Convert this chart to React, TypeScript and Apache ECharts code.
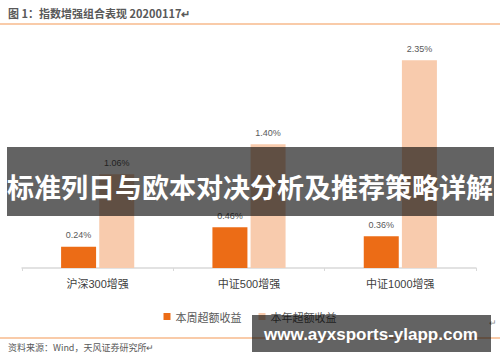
import React, { useEffect, useRef } from "react";
import * as echarts from "echarts";

const categories = ["沪深300增强", "中证500增强", "中证1000增强"];
const weekExcess = [0.24, 0.46, 0.36];
const yearExcess = [1.06, 1.4, 2.35];
const seriesNames = ["本周超额收益", "本年超额收益"];
const titleText = "图 1：指数增强组合表现 20200117↵";
const sourceText = "资料来源：Wind，天风证券研究所↵";
const bannerText = "标准列日与欧本对决分析及推荐策略详解";
const watermarkText = "www.ayxsports-ylapp.com";

export default function App() {
  const ref = useRef<HTMLDivElement>(null);
  useEffect(() => {
    if (!ref.current) return;
    const chart = echarts.init(ref.current, null, { renderer: "svg" });
    const labelStyle = {
      show: true,
      position: "top" as const,
      distance: 7,
      fontSize: 9,
      color: "#595959",
      fontFamily: "Liberation Sans, Arial, sans-serif",
      formatter: (p: any) => Number(p.value).toFixed(2) + "%",
    };
    chart.setOption({
      animation: false,
      backgroundColor: "#ffffff",
      grid: { left: 22, right: 24, top: 47, bottom: 94, containLabel: false },
      legend: {
        data: seriesNames,
        top: 306,
        left: "center",
        itemWidth: 7,
        itemHeight: 7,
        itemGap: 17,
        icon: "rect",
        textStyle: {
          fontSize: 11,
          color: "#595959",
          fontFamily: "Noto Sans CJK SC, sans-serif",
        },
      },
      xAxis: {
        type: "category",
        data: categories,
        axisLine: { lineStyle: { color: "#d9d9d9", width: 1.5 } },
        axisTick: { show: true, length: 3, lineStyle: { color: "#d9d9d9" } },
        axisLabel: {
          fontSize: 11,
          color: "#404040",
          margin: 10,
          fontFamily: "Liberation Sans, Noto Sans CJK SC, sans-serif",
        },
      },
      yAxis: {
        type: "value",
        min: 0,
        max: 2.5,
        show: false,
        splitLine: { show: false },
      },
      series: [
        {
          name: seriesNames[0],
          type: "bar",
          data: weekExcess,
          barWidth: 35,
          barGap: "9%",
          itemStyle: { color: "#ec6c16" },
          label: labelStyle,
        },
        {
          name: seriesNames[1],
          type: "bar",
          data: yearExcess,
          barWidth: 35,
          itemStyle: { color: "#f8cbad" },
          label: labelStyle,
        },
      ],
      graphic: [
        {
          type: "text",
          left: 8,
          top: 7,
          z: 100,
          style: {
            text: titleText,
            fontSize: 11,
            fontWeight: "bold",
            fill: "#595959",
            fontFamily: "Noto Sans CJK SC, sans-serif",
          },
        },
        {
          type: "rect",
          z: 100,
          shape: { x: 0, y: 23, width: 500, height: 2 },
          style: { fill: "#f9cba9" },
        },
        {
          type: "rect",
          z: 100,
          shape: { x: 0, y: 337, width: 500, height: 2 },
          style: { fill: "#f9cba9" },
        },
        {
          type: "text",
          left: 8,
          top: 343,
          z: 100,
          style: {
            text: sourceText,
            fontSize: 9,
            fill: "#595959",
            fontFamily: "Noto Sans CJK SC, sans-serif",
          },
        },
        {
          type: "text",
          left: 489,
          top: 318,
          z: 100,
          style: { text: "↵", fontSize: 9, fill: "#8c8c8c" },
        },
        {
          type: "rect",
          z: 200,
          shape: { x: 7, y: 147, width: 487, height: 69 },
          style: { fill: "rgba(0,0,0,0.61)" },
        },
        {
          type: "text",
          z: 201,
          x: 250,
          y: 186,
          style: {
            text: bannerText,
            fontSize: 27,
            fontWeight: "bold",
            fill: "#ffffff",
            align: "center",
            verticalAlign: "middle",
            fontFamily: "Noto Sans CJK SC, sans-serif",
          },
        },
        {
          type: "rect",
          z: 200,
          shape: { x: 252, y: 315, width: 239, height: 37 },
          style: { fill: "rgba(0,0,0,0.61)" },
        },
        {
          type: "text",
          z: 201,
          x: 371,
          y: 334,
          style: {
            text: watermarkText,
            fontSize: 17,
            fontWeight: "bold",
            fill: "#ffffff",
            align: "center",
            verticalAlign: "middle",
            fontFamily: "Liberation Sans, Arial, sans-serif",
          },
        },
      ],
    });
    return () => chart.dispose();
  }, []);
  return (
    <div
      ref={ref}
      style={{ position: "fixed", left: 0, top: 0, width: 500, height: 362 }}
    />
  );
}
